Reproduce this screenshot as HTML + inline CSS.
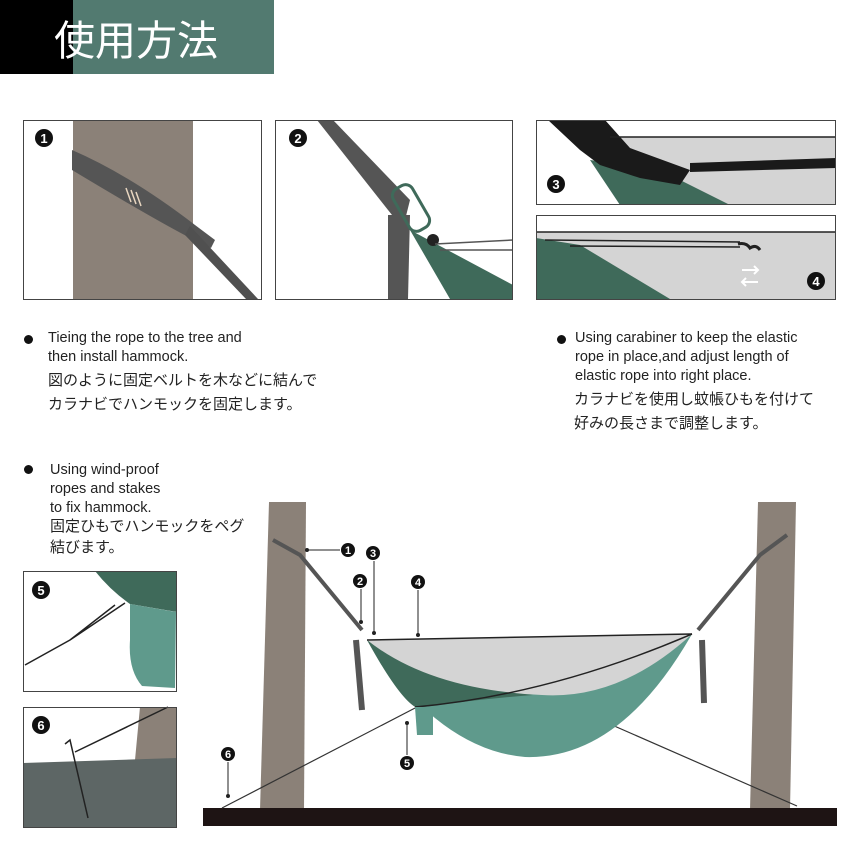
<!DOCTYPE html>
<html><head><meta charset="utf-8"><style>
body{margin:0;background:#fff;width:860px;height:860px;overflow:hidden;position:relative;font-family:"Liberation Sans","Noto Sans CJK JP",sans-serif;}
.t{position:absolute;color:#222;font-size:14.5px;line-height:19px;white-space:nowrap}
.j{font-size:15px;line-height:24px}
.b{position:absolute;width:9px;height:9px;border-radius:50%;background:#111}
</style></head><body>
<svg width="860" height="860" style="position:absolute;left:0;top:0" font-family="Liberation Sans, sans-serif">
<rect x="0" y="0" width="73" height="74" fill="#000"/>
<rect x="73" y="0" width="201" height="74" fill="#527a70"/>
<text x="54" y="55" font-size="41" fill="#fff" font-family="Noto Sans CJK JP, sans-serif">使用方法</text>

<!-- panel 1 -->
<rect x="73" y="120" width="120" height="179" fill="#8b8178"/>
<path d="M72,150 Q130,175 195,225 L215,240 L211,248 Q180,235 72,170Z" fill="#555"/>
<path d="M190,226 L258,299 L246,299 L185,235Z" fill="#505050"/>
<path d="M126,188 l5,14 M131,190 l5,14 M136,192 l5,14" stroke="#e8d6c0" stroke-width="1.5"/>
<rect x="23.5" y="120.5" width="238" height="179" fill="none" stroke="#444"/>
<!-- panel 2 -->
<path d="M410,230 L513,285 L513,299 L450,299Z" fill="#3f6a5a"/>
<path d="M317,120 L333,120 L410,200 L405,220 L392,215Z" fill="#555"/>
<path d="M388,215 L410,215 L408,299 L388,299Z" fill="#555"/>
<rect x="400" y="184" width="22" height="48" rx="8" fill="none" stroke="#3f6a5a" stroke-width="3" transform="rotate(-30 411 208)"/>
<circle cx="433" cy="240" r="6" fill="#222"/>
<path d="M435,244 L513,240 M440,250 L513,250" stroke="#555" stroke-width="1.5"/>
<rect x="275.5" y="120.5" width="237" height="179" fill="none" stroke="#444"/>
<!-- panel 3 -->
<path d="M610,137 L836,137 L836,205 L620,205Z" fill="#d4d4d4"/>
<path d="M590,160 L620,205 L730,205 L660,170Z" fill="#3f6a5a"/>
<path d="M548,120 L605,120 L630,148 L690,170 L680,185 L640,178 L600,165 L580,150Z" fill="#1a1a1a"/>
<path d="M690,163 L836,158 L836,168 L690,172Z" fill="#1a1a1a"/>
<path d="M610,137 L836,137" stroke="#222" stroke-width="1.5"/>
<rect x="536.5" y="120.5" width="299" height="84" fill="none" stroke="#444"/>
<!-- panel 4 -->
<rect x="536" y="232" width="300" height="67" fill="#d4d4d4"/>
<path d="M536,238 L580,245 L670,299 L536,299Z" fill="#3f6a5a"/>
<path d="M536,232 L836,232 M545,240 L740,242 M570,246 L740,247" stroke="#222" stroke-width="1.5"/>
<path d="M738,244 q8,-2 12,4 q6,-4 10,2" stroke="#222" stroke-width="3" fill="none"/>
<path d="M742,270 h16 M754,266 l4,4 -4,4 M742,282 h16 M746,278 l-4,4 4,4" stroke="#fff" stroke-width="2" fill="none"/>
<rect x="536.5" y="215.5" width="299" height="84" fill="none" stroke="#444"/>
<!-- panel 5 -->
<path d="M95,571 L177,571 L177,612 L130,604 Q110,590 95,571Z" fill="#3f6a5a"/>
<path d="M130,604 L176,612 L175,688 L142,686 Q128,670 130,640Z" fill="#5f9a8c"/>
<path d="M25,665 L70,640 L125,603 M70,640 L115,605" stroke="#222" stroke-width="1.5" fill="none"/>
<rect x="23.5" y="571.5" width="153" height="120" fill="none" stroke="#444"/>
<!-- panel 6 -->
<path d="M140,707 L177,707 L177,760 L135,760Z" fill="#8b8178"/>
<path d="M23,763 L177,758 L177,828 L23,828Z" fill="#5d6665"/>
<path d="M75,752 L168,707 M65,744 L70,740 L88,818" stroke="#222" stroke-width="1.5" fill="none"/>
<rect x="23.5" y="707.5" width="153" height="120" fill="none" stroke="#444"/>

<!-- big scene -->
<path d="M269,502 L306,502 L304,810 L260,810Z" fill="#8b8178"/>
<path d="M758,502 L796,502 L790,810 L750,810Z" fill="#8b8178"/>
<rect x="203" y="808" width="634" height="18" fill="#1e1414"/>
<path d="M417,707 L222,808 M612,725 L797,806" stroke="#333" stroke-width="1.2"/>
<path d="M273,540 L300,555 L362,630" stroke="#555" stroke-width="4" fill="none"/>
<path d="M787,535 L760,555 L698,630" stroke="#555" stroke-width="4" fill="none"/>
<path d="M356,640 L362,710" stroke="#555" stroke-width="6"/>
<path d="M702,640 L704,703" stroke="#555" stroke-width="6"/>
<path d="M367,640 Q440,750 525,757 Q620,760 692,634 Z" fill="#5f9a8c"/>
<path d="M367,640 Q400,700 417,708 Q470,700 533,695 Q450,685 367,640Z" fill="#3f6a5a"/>
<path d="M367,640 L692,634 Q620,700 542,695 Q430,690 367,640Z" fill="#d4d4d4"/>
<path d="M367,640 L692,634 M415,707 Q550,695 692,634" stroke="#222" stroke-width="1.5" fill="none"/>
<path d="M415,707 L433,707 L433,735 L417,735Z" fill="#5f9a8c"/>
<g stroke="#222" stroke-width="1" fill="#222">
<line x1="307" y1="550" x2="340" y2="550"/><circle cx="307" cy="550" r="1.5"/>
<line x1="374" y1="561" x2="374" y2="633"/><circle cx="374" cy="633" r="1.5"/>
<line x1="361" y1="589" x2="361" y2="622"/><circle cx="361" cy="622" r="1.5"/>
<line x1="418" y1="590" x2="418" y2="635"/><circle cx="418" cy="635" r="1.5"/>
<line x1="407" y1="723" x2="407" y2="755"/><circle cx="407" cy="723" r="1.5"/>
<line x1="228" y1="762" x2="228" y2="796"/><circle cx="228" cy="796" r="1.5"/>
</g>
<g font-size="11" font-weight="bold" fill="#fff" text-anchor="middle">
<circle cx="348" cy="550" r="7" fill="#111"/><text x="348" y="554">1</text>
<circle cx="373" cy="553" r="7" fill="#111"/><text x="373" y="557">3</text>
<circle cx="360" cy="581" r="7" fill="#111"/><text x="360" y="585">2</text>
<circle cx="418" cy="582" r="7" fill="#111"/><text x="418" y="586">4</text>
<circle cx="407" cy="763" r="7" fill="#111"/><text x="407" y="767">5</text>
<circle cx="228" cy="754" r="7" fill="#111"/><text x="228" y="758">6</text>
</g>
<g font-size="13" font-weight="bold" fill="#fff" text-anchor="middle">
<circle cx="44" cy="138" r="9" fill="#111"/><text x="44" y="143">1</text>
<circle cx="298" cy="138" r="9" fill="#111"/><text x="298" y="143">2</text>
<circle cx="556" cy="184" r="9" fill="#111"/><text x="556" y="189">3</text>
<circle cx="816" cy="281" r="9" fill="#111"/><text x="816" y="286">4</text>
<circle cx="41" cy="590" r="9" fill="#111"/><text x="41" y="595">5</text>
<circle cx="41" cy="725" r="9" fill="#111"/><text x="41" y="730">6</text>
</g>
</svg>
<div class="b" style="left:24px;top:335px"></div>
<div class="t" style="left:48px;top:329px">Tieing the rope to the tree and<br>then install hammock.</div>
<div class="t j" style="left:48px;top:369px">図のように固定ベルトを木などに結んで<br>カラナビでハンモックを固定します。</div>
<div class="b" style="left:557px;top:335px"></div>
<div class="t" style="left:575px;top:329px">Using carabiner to keep the elastic<br>rope in place,and adjust length of<br>elastic rope into right place.</div>
<div class="t j" style="left:574px;top:388px">カラナビを使用し蚊帳ひもを付けて<br>好みの長さまで調整します。</div>
<div class="b" style="left:24px;top:465px"></div>
<div class="t" style="left:50px;top:461px">Using wind-proof<br>ropes and stakes<br>to fix hammock.</div>
<div class="t j" style="left:50px;top:516px;line-height:21px">固定ひもでハンモックをペグ<br>結びます。</div>
</body></html>
